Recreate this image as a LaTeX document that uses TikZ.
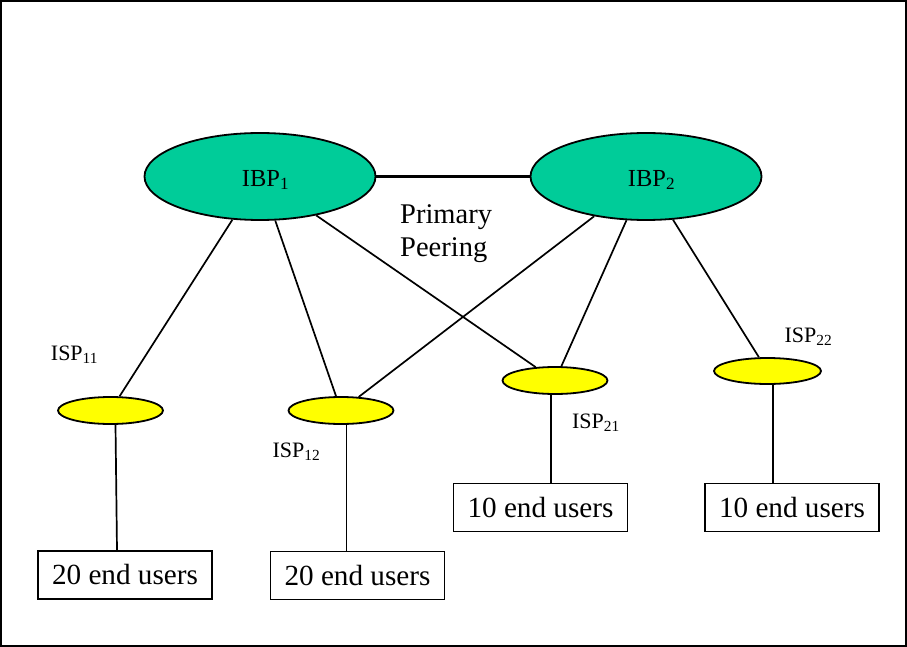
\documentclass[tikz,border=0pt]{standalone}
\usepackage{fontspec}
\setmainfont{Liberation Serif}
\usetikzlibrary{shapes.geometric}
\definecolor{ibpgreen}{RGB}{0,204,153}
\definecolor{ispyellow}{RGB}{255,255,0}
\begin{document}
\begin{tikzpicture}[x=1pt,y=-1pt,
  ibp/.style={ellipse,draw,line width=1.8pt,fill=ibpgreen,inner sep=0pt,
    minimum width=231pt,minimum height=87pt},
  ibptext/.style={inner sep=0pt,font=\fontsize{24.5}{28}\selectfont},
  isp/.style={ellipse,draw,line width=1.8pt,fill=ispyellow,inner sep=0pt,
    minimum width=105pt,minimum height=27pt},
  users/.style={draw,line width=1.8pt,inner sep=0pt,minimum width=174pt,
    minimum height=48pt,font=\fontsize{29.2}{33}\selectfont},
  isplabel/.style={inner sep=0pt,font=\fontsize{22}{26}\selectfont},
  plain/.style={inner sep=0pt,anchor=base west,font=\fontsize{28.5}{32}\selectfont},
  link/.style={line width=1.7pt},
  peering/.style={line width=3.5pt}]
\useasboundingbox (0,0) rectangle (907,647);
\draw[line width=2pt] (1,1) rectangle (905.5,645.5);

% backbone providers
\node[ibp] (ibp1) at (260,176.5) {};
\node[ibp] (ibp2) at (646,176.5) {};
\node[ibptext] (t1) at (265.5,180) {IBP\textsubscript{1}};
\node[ibptext] (t2) at (651.5,180) {IBP\textsubscript{2}};

% access providers
\node[isp] (isp11) at (110.5,410.5) {};
\node[isp] (isp12) at (341,410.5) {};
\node[isp] (isp21) at (555,380.5) {};
\node[isp,minimum width=107pt,minimum height=26pt] (isp22) at (767.5,371) {};

% customer groups
\node[users] (u11) at (125,575) {20 end users};
\node[users] (u12) at (357.5,575.5) {20 end users};
\node[users] (u21) at (540.5,507.5) {10 end users};
\node[users] (u22) at (792,507.5) {10 end users};

% labels
\node[isplabel] (l11) at (74.5,355) {ISP\textsubscript{11}};
\node[isplabel] (l12) at (296.5,452) {ISP\textsubscript{12}};
\node[isplabel] (l21) at (596,423) {ISP\textsubscript{21}};
\node[isplabel] (l22) at (808.5,337) {ISP\textsubscript{22}};
\node[plain] (prim) at (400,223) {Primary};
\node[plain] (peer) at (400,256) {Peering};

% primary peering link
\draw[peering] (ibp1) -- (ibp2);

% provider links
\draw[link] (ibp1) -- (isp11);
\draw[link] (ibp1) -- (isp12);
\draw[link] (ibp1) -- (isp21);
\draw[link] (ibp2) -- (isp12);
\draw[link] (ibp2) -- (isp21);
\draw[link] (ibp2) -- (isp22);

% access lines to customers
\draw[link] ([xshift=5pt]isp11.south) -- ([xshift=-8pt]u11.north);
\draw[link] ([xshift=5.5pt]isp12.south) -- ([xshift=-11pt]u12.north);
\draw[link] ([xshift=-4pt]isp21.south) -- ([xshift=10.5pt]u21.north);
\draw[link] ([xshift=5.5pt]isp22.south) -- ([xshift=-19pt]u22.north);
\end{tikzpicture}
\end{document}
